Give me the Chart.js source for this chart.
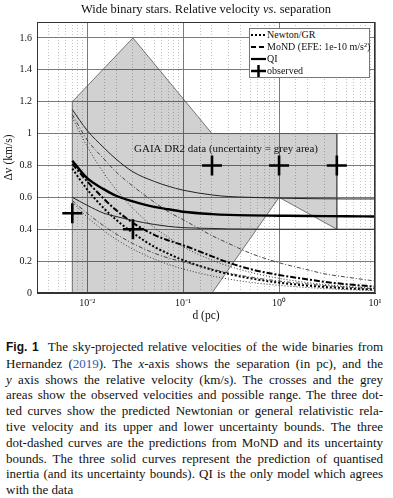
<!DOCTYPE html>
<html>
<head>
<meta charset="utf-8">
<script src="https://cdn.jsdelivr.net/npm/chart.js@4.4.1/dist/chart.umd.min.js"></script>
<style>
  html, body { margin: 0; padding: 0; background: #fff; }
  #wrap { position: relative; width: 393px; height: 498px; overflow: hidden;
          font-family: "Liberation Serif", "Times New Roman", serif; color: #111; }
  #chart { position: absolute; left: 0; top: 0; }
  #title { position: absolute; left: 37px; width: 338px; top: 2px; text-align: center; font-size: 12.5px; }
  #legend { position: absolute; left: 249px; top: 28px; width: 119px; height: 48px;
            background: #fff; border: 1px solid #777; font-size: 10px; }
  #legend .row { position: absolute; left: 0; height: 12px; line-height: 12px; white-space: nowrap; }
  #legend svg { position: absolute; left: 1px; top: 0; }
  #legend span { position: absolute; left: 17px; top: 0; }
  #caption { position: absolute; left: 6px; top: 339px; width: 377px; font-size: 13px; line-height: 15.8px; }
  #caption div { text-align: justify; text-align-last: justify; white-space: nowrap; }
  #caption div.last { text-align-last: left; }
  #caption b { font-family: "Liberation Sans", Arial, sans-serif; font-size: 12px; }
  #caption .ref { color: #2a5db0; }
</style>
</head>
<body>
<div id="wrap">
  <canvas id="chart" width="393" height="326"></canvas>
  <div id="title">Wide binary stars. Relative velocity <i>vs.</i> separation</div>
  <div id="legend">
    <div class="row" style="top:0px"><svg width="16" height="12"><line x1="0" y1="6" x2="15" y2="6" stroke="#000" stroke-width="2" stroke-dasharray="2,2"/></svg><span>Newton/GR</span></div>
    <div class="row" style="top:12px"><svg width="16" height="12"><line x1="0" y1="6" x2="15" y2="6" stroke="#000" stroke-width="2" stroke-dasharray="5,3"/></svg><span>MoND (EFE: 1e-10 m/s²)</span></div>
    <div class="row" style="top:24px"><svg width="16" height="12"><line x1="0" y1="6" x2="15" y2="6" stroke="#000" stroke-width="2.2"/></svg><span>QI</span></div>
    <div class="row" style="top:36px"><svg width="16" height="12"><line x1="0" y1="6" x2="15" y2="6" stroke="#000" stroke-width="2.5"/><line x1="7.5" y1="0" x2="7.5" y2="12" stroke="#000" stroke-width="2.5"/></svg><span>observed</span></div>
  </div>
  <div id="caption">
    <div><b>Fig. 1</b>&nbsp; The sky-projected relative velocities of the wide binaries from</div>
    <div>Hernandez (<span class="ref">2019</span>). The <i>x</i>-axis shows the separation (in pc), and the</div>
    <div><i>y</i> axis shows the relative velocity (km/s). The crosses and the grey</div>
    <div>areas show the observed velocities and possible range. The three dot-</div>
    <div>ted curves show the predicted Newtonian or general relativistic rela-</div>
    <div>tive velocity and its upper and lower uncertainty bounds. The three</div>
    <div>dot-dashed curves are the predictions from MoND and its uncertainty</div>
    <div>bounds. The three solid curves represent the prediction of quantised</div>
    <div>inertia (and its uncertainty bounds). QI is the only model which agrees</div>
    <div class="last">with the data</div>
  </div>
</div>
<script>
const sepPc = [0.007, 0.01, 0.015, 0.02, 0.03, 0.05, 0.07, 0.1, 0.2, 0.3, 0.5, 1, 2, 3, 5, 10];

// relative velocity (km/s)
const newtonMid = [0.78, 0.65, 0.53, 0.46, 0.377, 0.29, 0.247, 0.206, 0.146, 0.119, 0.092, 0.065, 0.046, 0.038, 0.029, 0.021];
const newtonHi  = [1.10, 0.92, 0.75, 0.65, 0.53, 0.41, 0.35, 0.29, 0.206, 0.168, 0.13, 0.092, 0.065, 0.053, 0.041, 0.029];
const newtonLo  = [0.57, 0.477, 0.39, 0.337, 0.275, 0.213, 0.18, 0.151, 0.107, 0.087, 0.067, 0.048, 0.034, 0.028, 0.021, 0.015];

const mondMid = [0.81, 0.70, 0.59, 0.52, 0.44, 0.365, 0.33, 0.30, 0.23, 0.19, 0.15, 0.113, 0.085, 0.07, 0.055, 0.04];
const mondHi  = [1.12, 0.96, 0.84, 0.76, 0.67, 0.57, 0.51, 0.46, 0.36, 0.31, 0.25, 0.19, 0.145, 0.12, 0.10, 0.075];
const mondLo  = [0.58, 0.50, 0.42, 0.37, 0.31, 0.25, 0.22, 0.195, 0.15, 0.125, 0.10, 0.075, 0.056, 0.047, 0.037, 0.027];

const qiMid = [0.83, 0.72, 0.65, 0.61, 0.575, 0.54, 0.525, 0.51, 0.495, 0.49, 0.487, 0.485, 0.483, 0.482, 0.481, 0.48];
const qiHi  = [1.15, 1.02, 0.91, 0.84, 0.76, 0.70, 0.67, 0.645, 0.615, 0.605, 0.60, 0.595, 0.592, 0.591, 0.59, 0.59];
const qiLo  = [0.60, 0.55, 0.50, 0.48, 0.455, 0.43, 0.418, 0.41, 0.405, 0.402, 0.401, 0.40, 0.40, 0.40, 0.40, 0.40];

// observed GAIA DR2 points and the grey uncertainty region
const obsX = [0.007, 0.03, 0.2, 1, 4];
const obsY = [0.5, 0.4, 0.8, 0.8, 0.8];
const greyX = [0.007, 0.007, 0.03, 0.2, 4, 4, 1, 0.2, 0.007];
const greyY = [0, 1.2, 1.6, 1.0, 1.0, 0.4, 0.6, 0, 0];

const yTicks = [0, 0.2, 0.4, 0.6, 0.8, 1, 1.2, 1.4, 1.6];
const decadeLabels = { '-2': '10\u207B\u00B2', '-1': '10\u207B\u00B9', '0': '10\u2070', '1': '10\u00B9' };
const gaiaNote = 'GAIA DR2 data (uncertainty = grey area)';
const noteAt = [0.28, 0.9];

function pts(xs, ys) {
    return xs.map((x, i) => ({ x: x, y: ys[i] }));
}

function curve(vals, width, dash, color) {
    return {
        data: pts(sepPc, vals),
        showLine: true,
        borderColor: color,
        borderWidth: width,
        borderDash: dash,
        pointRadius: 0,
        fill: false,
        cubicInterpolationMode: 'monotone',
        order: 2
    };
}

function isDecade(v) {
    const l = Math.log10(v);
    return Math.abs(l - Math.round(l)) < 1e-6;
}

const serif = '"Liberation Serif", "Times New Roman", serif';

const framePlugin = {
    id: 'frame',
    afterDatasetsDraw(chart) {
        const { ctx, chartArea: a, scales } = chart;
        ctx.save();
        ctx.font = '11px ' + serif;
        ctx.fillStyle = '#111';
        ctx.textAlign = 'center';
        ctx.textBaseline = 'middle';
        ctx.fillText(gaiaNote, scales.x.getPixelForValue(noteAt[0]), scales.y.getPixelForValue(noteAt[1]));
        ctx.strokeStyle = '#333';
        ctx.lineWidth = 1;
        ctx.strokeRect(a.left + 0.5, a.top + 0.5, a.width - 1, a.height - 1);
        ctx.restore();
    }
};

new Chart(document.getElementById('chart'), {
    type: 'scatter',
    data: {
        datasets: [
            {
                data: pts(greyX, greyY),
                showLine: true,
                tension: 0,
                borderColor: '#555',
                borderWidth: 0.8,
                backgroundColor: 'rgba(0,0,0,0.18)',
                fill: 'shape',
                pointRadius: 0,
                order: 10
            },
            curve(newtonHi, 1, [1, 2], '#333'),
            curve(newtonLo, 1, [1, 2], '#333'),
            curve(mondHi, 0.9, [4, 2, 1, 2], '#333'),
            curve(mondLo, 0.9, [4, 2, 1, 2], '#333'),
            curve(qiHi, 1, [], '#222'),
            curve(qiLo, 1, [], '#222'),
            curve(newtonMid, 2, [2, 2], '#000'),
            curve(mondMid, 2, [6, 2, 2, 2], '#000'),
            curve(qiMid, 2.4, [], '#000'),
            {
                data: pts(obsX, obsY),
                showLine: false,
                pointStyle: 'cross',
                pointRadius: 10,
                pointBorderWidth: 2.6,
                pointBorderColor: '#000',
                order: 1
            }
        ]
    },
    options: {
        responsive: false,
        animation: false,
        events: [],
        layout: { padding: { left: 0, right: 18, top: 22, bottom: 0 } },
        plugins: {
            legend: { display: false },
            tooltip: { enabled: false }
        },
        scales: {
            x: {
                type: 'logarithmic',
                min: 0.003,
                max: 10,
                afterFit: s => { s.height = 33; },
                grid: {
                    drawTicks: false,
                    color: c => (c.tick && isDecade(c.tick.value)) ? '#7a7a7a' : '#c4c4c4',
                    lineWidth: 1
                },
                border: {
                    color: '#333',
                    dash: c => (c.tick && !isDecade(c.tick.value)) ? [1, 2] : []
                },
                ticks: {
                    autoSkip: false,
                    maxRotation: 0,
                    padding: 4,
                    color: '#111',
                    font: { family: serif, size: 10 },
                    callback: v => isDecade(v) ? (decadeLabels[String(Math.round(Math.log10(v)))] || '') : ''
                },
                title: {
                    display: true,
                    text: 'd (pc)',
                    color: '#111',
                    padding: { top: 0, bottom: 3 },
                    font: { family: serif, size: 11.5 }
                }
            },
            y: {
                min: 0,
                max: 1.7,
                afterFit: s => { s.width = 37; },
                afterBuildTicks: s => { s.ticks = yTicks.map(v => ({ value: v })); },
                grid: { drawTicks: false, color: '#7a7a7a', lineWidth: 1 },
                border: { color: '#333' },
                ticks: {
                    padding: 5,
                    color: '#111',
                    font: { family: serif, size: 10 },
                    callback: v => String(Math.round(v * 10) / 10)
                },
                title: {
                    display: true,
                    text: '\u0394v (km/s)',
                    color: '#111',
                    padding: { top: 2, bottom: 0 },
                    font: { family: serif, size: 11.5 }
                }
            }
        }
    },
    plugins: [framePlugin]
});
</script>
</body>
</html>
